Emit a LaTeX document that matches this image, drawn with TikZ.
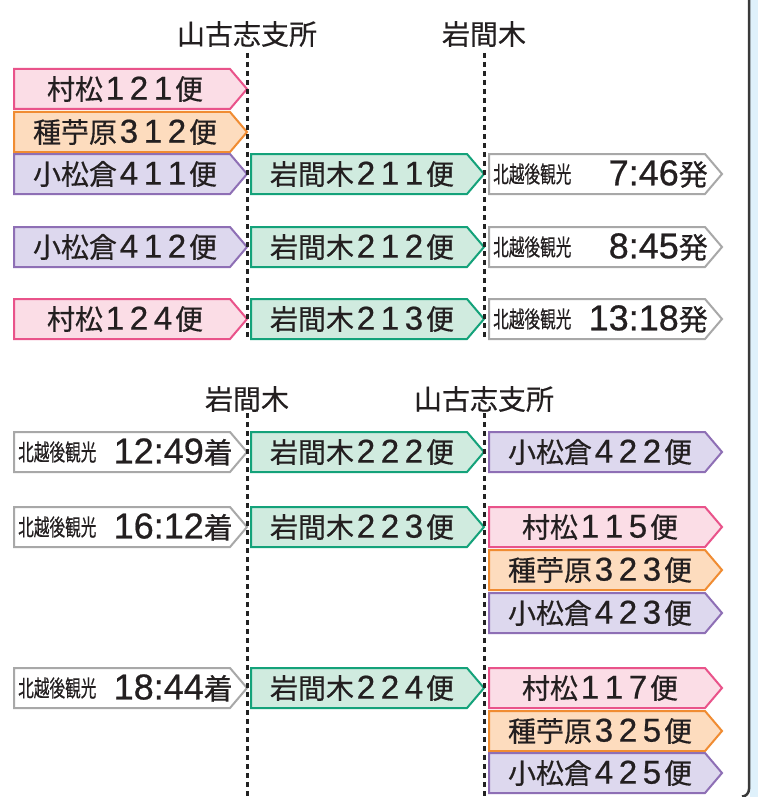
\documentclass[tikz,border=0pt]{standalone}
\usepackage{fontspec}
\usepackage{graphicx}
\setmainfont{Noto Sans CJK JP}[FakeBold=0.4]
\newfontfamily\latf{Liberation Sans}[FakeBold=0.6]
\definecolor{pinkl}{HTML}{E9538A}
\definecolor{pinkf}{HTML}{FBDDE6}
\definecolor{orangel}{HTML}{F08C32}
\definecolor{orangef}{HTML}{FDDCBE}
\definecolor{purplel}{HTML}{8E6FB5}
\definecolor{purplef}{HTML}{DDD8EE}
\definecolor{greenl}{HTML}{14A27A}
\definecolor{greenf}{HTML}{D0EBDF}
\definecolor{grayl}{HTML}{A8A8A8}
\definecolor{inkc}{HTML}{231F20}
\definecolor{bluebg}{HTML}{DFF1FB}
\definecolor{borderc}{HTML}{3A3A3A}
\definecolor{dashc}{HTML}{222222}
\tikzset{
  boxline/.style={line width=2pt, line join=miter},
  pinkb/.style={boxline, draw=pinkl, fill=pinkf},
  orangeb/.style={boxline, draw=orangel, fill=orangef},
  purpleb/.style={boxline, draw=purplel, fill=purplef},
  greenb/.style={boxline, draw=greenl, fill=greenf},
  grayb/.style={boxline, draw=grayl, fill=white},
  rtext/.style={inner sep=0pt, text=inkc, font=\fontsize{28pt}{30pt}\selectfont},
  ctext/.style={inner sep=0pt, text=inkc},
  htext/.style={inner sep=0pt, text=inkc, font=\fontsize{28pt}{30pt}\selectfont},
  station/.style={line width=3pt, draw=dashc, dash pattern=on 5pt off 4pt},
}
\newcommand\rd[1]{\makebox[24pt]{\latf\fontsize{33pt}{33pt}\selectfont #1}}
\newcommand\coname{\scalebox{0.68}[1]{\fontsize{23pt}{23pt}\selectfont 北越後観光}}
\newcommand\tmt[2]{{\latf\fontsize{36pt}{36pt}\selectfont #1}{\fontsize{29pt}{29pt}\selectfont #2}}
% #1 style, #2 left x, #3 tip x, #4 center y
\newcommand\arrowshape[4]{%
  \draw[#1] (#2,#4-20) -- (#3-17,#4-20) -- (#3,#4) -- (#3-17,#4+20) -- (#2,#4+20) -- cycle;}
% #1 style, #2 left, #3 tip, #4 y, #5 name, #6 text
\newcommand\route[6]{%
  \arrowshape{#1}{#2}{#3}{#4}
  \node[rtext] (#5) at ({(#2+#3-17)/2+3},#4) {#6};}
% departure / arrival: #1 left, #2 tip, #3 y, #4 name, #5 time, #6 kanji
\newcommand\bus[6]{%
  \arrowshape{grayb}{#1}{#2}{#3}
  \node[ctext, anchor=west] (#4c) at (#1+4,#3) {\coname};
  \node[ctext, anchor=east] (#4t) at (#2-14,#3) {\tmt{#5}{#6}};}
\begin{document}
\begin{tikzpicture}[x=1pt,y=-1pt]
\useasboundingbox (0,0) rectangle (758,797);
\fill[white] (0,0) rectangle (758,797);
\fill[bluebg] (750,0) rectangle (758,797);
\coordinate (bt) at (749,-3);
\coordinate (bb) at (749,789);
\coordinate (bc) at (742,796.5);
\draw[line width=2.5pt, borderc] (bt) -- (bb) to[out=-90,in=0] (bc);

% headers
\node[htext] (h1) at (247,34) {山古志支所};
\node[htext] (h2) at (484,34) {岩間木};
\node[htext] (h3) at (247,399) {岩間木};
\node[htext] (h4) at (484,399) {山古志支所};

% section 1
\route{pinkb}{14}{247}{89}{m121}{村松\rd1\rd2\rd1便}
\route{orangeb}{14}{247}{132}{t312}{種苧原\rd3\rd1\rd2便}
\route{purpleb}{14}{247}{174}{k411}{小松倉\rd4\rd1\rd1便}
\route{greenb}{251}{484}{174}{g211}{岩間木\rd2\rd1\rd1便}
\bus{489}{722}{174}{d1}{7:46}{発}
\route{purpleb}{14}{247}{247}{k412}{小松倉\rd4\rd1\rd2便}
\route{greenb}{251}{484}{247}{g212}{岩間木\rd2\rd1\rd2便}
\bus{489}{722}{247}{d2}{8:45}{発}
\route{pinkb}{14}{247}{319}{m124}{村松\rd1\rd2\rd4便}
\route{greenb}{251}{484}{319}{g213}{岩間木\rd2\rd1\rd3便}
\bus{489}{722}{319}{d3}{13:18}{発}

% section 2
\bus{14}{247}{452}{a1}{12:49}{着}
\route{greenb}{251}{484}{452}{g222}{岩間木\rd2\rd2\rd2便}
\route{purpleb}{489}{722}{452}{k422}{小松倉\rd4\rd2\rd2便}
\bus{14}{247}{527}{a2}{16:12}{着}
\route{greenb}{251}{484}{527}{g223}{岩間木\rd2\rd2\rd3便}
\route{pinkb}{489}{722}{527}{m115}{村松\rd1\rd1\rd5便}
\route{orangeb}{489}{722}{570}{t323}{種苧原\rd3\rd2\rd3便}
\route{purpleb}{489}{722}{613}{k423}{小松倉\rd4\rd2\rd3便}
\bus{14}{247}{688}{a3}{18:44}{着}
\route{greenb}{251}{484}{688}{g224}{岩間木\rd2\rd2\rd4便}
\route{pinkb}{489}{722}{688}{m117}{村松\rd1\rd1\rd7便}
\route{orangeb}{489}{722}{731}{t325}{種苧原\rd3\rd2\rd5便}
\route{purpleb}{489}{722}{773}{k425}{小松倉\rd4\rd2\rd5便}

% station lines
\coordinate (s1a) at (247,53);
\coordinate (s1b) at (247,340);
\coordinate (s2a) at (484,53);
\coordinate (s2b) at (484,340);
\coordinate (s3a) at (247,413);
\coordinate (s3b) at (247,800);
\coordinate (s4a) at (484,413);
\coordinate (s4b) at (484,800);
\draw[station] (s1a) -- (s1b);
\draw[station] (s2a) -- (s2b);
\draw[station] (s3a) -- (s3b);
\draw[station] (s4a) -- (s4b);
\end{tikzpicture}
\end{document}
